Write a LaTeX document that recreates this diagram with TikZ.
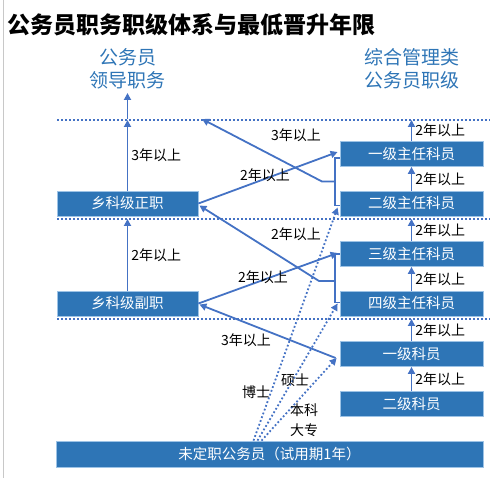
\documentclass[tikz,border=0pt]{standalone}
\usepackage{fontspec}
\setmainfont{Noto Sans CJK SC}
\usepackage{tikz}
\usetikzlibrary{arrows.meta, calc}
\definecolor{rankblue}{HTML}{2E75B6}
\definecolor{rankedge}{HTML}{9DC3E6}
\definecolor{linkblue}{HTML}{4472C4}
\definecolor{gridgray}{HTML}{C8C8C8}

\begin{document}
\begin{tikzpicture}[x=1pt, y=-1pt,
    every node/.style={font=\fontsize{14}{16}\selectfont, inner sep=0pt},
    rank/.style={draw=rankedge, line width=0.8pt, fill=rankblue, text=white,
      font=\fontsize{14.5}{16}\selectfont, minimum height=25pt},
    head/.style={text=rankblue, align=center, font=\fontsize{19}{23}\selectfont},
    link/.style={linkblue, line width=1.8pt, -{Triangle[length=7pt,width=7pt]}},
    route/.style={link, dash pattern=on 1.8pt off 2.2pt},
    brace/.style={linkblue, line width=1.8pt},
    sep/.style={linkblue, line width=1.5pt, dash pattern=on 2pt off 2pt},
    gap/.style={right=3pt, text=black}]
  \useasboundingbox (0,0) rectangle (491,478);
  \draw[gridgray, line width=0.8pt] (3,0) -- (3,478);

  % title and column heads
  \node[anchor=west, font=\bfseries\fontsize{23}{26}\selectfont] (title) at (7,25) {公务员职务职级体系与最低晋升年限};
  \node[head] (leadhead) at (127.5,68.5) {公务员\\领导职务};
  \node[head] (rankhead) at (411.5,68.5) {综合管理类\\公务员职级};

  % level separators
  \foreach \y in {120, 219, 319}
    \draw[sep] (57,\y) -- (490,\y);
  \coordinate (capL) at (127.5,120);
  \coordinate (midL) at (127.5,219);
  \coordinate (capR) at (411.5,120);
  \coordinate (midR) at (411.5,219);
  \coordinate (lowR) at (411.5,319);
  \coordinate (upper) at (202,119);

  % boxes
  \node[rank, minimum width=141pt] (zhengzhi) at (127.5,203.5) {乡科级正职};
  \node[rank, minimum width=141pt] (fuzhi) at (127.5,303.5) {乡科级副职};
  \foreach \name/\y/\txt in {yizhu/154/一级主任科员, erzhu/203.5/二级主任科员,
      sanzhu/254/三级主任科员, sizhu/303.5/四级主任科员,
      yike/354/一级科员, erke/404/二级科员}
    \node[rank, minimum width=143pt] (\name) at (411.5,\y) {\txt};
  \node[rank, minimum width=427pt, minimum height=26pt] (weiding) at (269.5,454) {未定职公务员（试用期1年）};

  % left column
  \draw[link] (127.5,119) -- (127.5,93);
  \draw[link] (zhengzhi.north) -- node[gap] (riseL1) {3年以上} (capL);
  \draw[link] (fuzhi.north) -- node[gap] (riseL2) {2年以上} (midL);

  % right column
  \foreach \lo/\hi/\tag in {yizhu/capR/1, erzhu/yizhu.south/2, sanzhu/midR/3,
      sizhu/sanzhu.south/4, yike/lowR/5, erke/yike.south/6}
    \draw[link] (\lo.north) -- node[gap] (riseR\tag) {2年以上} (\hi);

  % brackets
  \draw[brace] ($(yizhu.west)+(0,4)$) -- ++(-5,0) |- ($(erzhu.west)+(0,2)$);
  \draw[brace] ($(sanzhu.west)+(0,0)$) -- ++(-5,0) |- ($(sizhu.west)+(0,-1)$);
  \coordinate (knotA) at (335,181.5);
  \coordinate (knotB) at (335,281);

  % cross links
  \draw[link] (knotA) -- ++(-13,0) -- (upper);
  \draw[link] (zhengzhi.east) -- ($(yizhu.west)+(-2,-2)$);
  \draw[link] (knotB) -- ++(-16,0) -- ($(zhengzhi.east)+(1,2)$);
  \draw[link] (fuzhi.east) -- ($(sanzhu.west)+(-2,-1)$);
  \draw[link] ($(yike.west)+(-4,4)$) -- ($(fuzhi.east)+(1,1)$);
  \node (crossA) at (296,135) {3年以上};
  \node (crossB) at (265,175) {2年以上};
  \node (crossC) at (296,234) {2年以上};
  \node (crossD) at (263,277) {2年以上};
  \node (crossE) at (246,340) {3年以上};

  % entry routes
  \draw[route] ($(weiding.north)+(-16,0)$) -- ($(erzhu.west)+(-2,4)$);
  \draw[route] ($(weiding.north)+(-12,0)$) -- ($(sizhu.west)+(-2,0)$);
  \draw[route] ($(weiding.north)+(-8,0)$) -- ($(yike.west)+(-3,4)$);
  \node (phd) at (256,392) {博士};
  \node (master) at (295,380) {硕士};
  \node (bachelor) at (304,410) {本科};
  \node (college) at (304,430) {大专};
\end{tikzpicture}
\end{document}
